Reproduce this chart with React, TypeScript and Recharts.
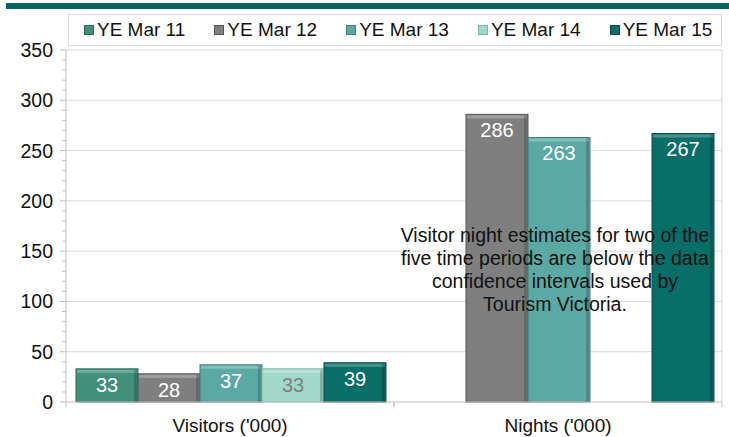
import { Bar, BarChart, CartesianGrid, LabelList, XAxis, YAxis } from "recharts";

const categories = ["Visitors ('000)", "Nights ('000)"];
const periods = ["YE Mar 11", "YE Mar 12", "YE Mar 13", "YE Mar 14", "YE Mar 15"];
const ye11 = [33, null];
const ye12 = [28, 286];
const ye13 = [37, 263];
const ye14 = [33, null];
const ye15 = [39, 267];
const yTicks = [0, 10, 20, 30, 40, 50, 60, 70, 80, 90, 100, 110, 120, 130, 140, 150, 160, 170, 180, 190, 200, 210, 220, 230, 240, 250, 260, 270, 280, 290, 300, 310, 320, 330, 340, 350];
const gridValues = [50, 100, 150, 200, 250, 300, 350];
const noteLines = [
  "Visitor night estimates for two of the",
  "five time periods are below the data",
  "confidence intervals used by",
  "Tourism Victoria.",
];

const colors = ["#40907A", "#7F7F7F", "#5BA9A4", "#A2D8C8", "#0A6E68"];
const edgeColors = ["#2C6B5A", "#555555", "#3F807C", "#7DB8A6", "#05504B"];
const labelColors = ["#FFFFFF", "#FFFFFF", "#FFFFFF", "#7F7F7F", "#FFFFFF"];
const series = [ye11, ye12, ye13, ye14, ye15];

const data = categories.map((c, i) => {
  const row: Record<string, string | number | null> = { name: c };
  periods.forEach((p, k) => {
    row[p] = series[k][i];
  });
  return row;
});

const font = "'Liberation Sans', Arial, sans-serif";

function BevelBar(props: any) {
  const { x, y, width, height, fill, edge } = props;
  if (!height || height <= 0) return null;
  return (
    <g>
      <rect x={x} y={y} width={width} height={height} fill={fill} stroke={edge} strokeWidth={1} />
      <rect x={x + 1} y={y + 1} width={width - 2} height={3} fill="#ffffff" fillOpacity={0.25} />
      <rect x={x + width - 4} y={y + 1} width={3} height={height - 1} fill="#000000" fillOpacity={0.18} />
    </g>
  );
}

function YTick(props: any) {
  const { x, y, payload } = props;
  const major = payload.value % 50 === 0;
  return (
    <g>
      <line x1={major ? x - 6 : x - 4} x2={x} y1={y} y2={y} stroke="#BFBFBF" />
      {major && (
        <text x={x - 13} y={y + 7} textAnchor="end" fontSize={19.5} fill="#111" fontFamily={font}>
          {payload.value}
        </text>
      )}
    </g>
  );
}

function XTick(props: any) {
  const { x, y, payload } = props;
  return (
    <g>
      <line x1={x - 164} x2={x - 164} y1={y} y2={y + 5} stroke="#BFBFBF" />
      <line x1={x + 164} x2={x + 164} y1={y} y2={y + 5} stroke="#BFBFBF" />
      <text x={x} y={y + 30} textAnchor="middle" fontSize={19} fill="#111" fontFamily={font}>
        {payload.value}
      </text>
    </g>
  );
}

function LegendBox() {
  return (
    <div
      style={{
        position: "absolute",
        left: 68,
        top: 14,
        width: 654,
        height: 32,
        border: "1px solid #D9D9D9",
        display: "flex",
        alignItems: "center",
        paddingLeft: 15,
        gap: 29,
        fontFamily: font,
        fontSize: 19,
        color: "#111",
        boxSizing: "border-box",
        background: "#fff",
      }}
    >
      {periods.map((p, k) => (
        <div key={p} style={{ display: "flex", alignItems: "center", gap: 3 }}>
          <span
            style={{
              display: "inline-block",
              width: 8,
              height: 8,
              background: colors[k],
              border: `1px solid ${edgeColors[k]}`,
            }}
          />
          <span>{p}</span>
        </div>
      ))}
    </div>
  );
}

export default function App() {
  return (
    <div style={{ position: "relative", width: 729, height: 437, background: "#fff" }}>
      <style>{"body{margin:0}"}</style>
      <div style={{ position: "absolute", left: 6, top: 3, width: 723, height: 6, background: "#05665F" }} />
      <BarChart
        width={729}
        height={437}
        data={data}
        margin={{ top: 50, right: 7, left: 0, bottom: 0 }}
        barCategoryGap={10}
        barGap={0}
      >
        <CartesianGrid stroke="#D9D9D9" horizontalValues={gridValues} verticalPoints={[722]} />
        <XAxis
          dataKey="name"
          height={35}
          tickLine={false}
          tickSize={0}
          tickMargin={0}
          axisLine={{ stroke: "#BFBFBF" }}
          tick={<XTick />}
        />
        <YAxis
          width={66}
          domain={[0, 350]}
          ticks={yTicks}
          interval={0}
          tickLine={false}
          tickSize={0}
          tickMargin={0}
          axisLine={{ stroke: "#BFBFBF" }}
          tick={<YTick />}
        />
        {periods.map((p, k) => (
          <Bar
            key={p}
            dataKey={p}
            fill={colors[k]}
            isAnimationActive={false}
            shape={(props: any) => <BevelBar {...props} fill={colors[k]} edge={edgeColors[k]} />}
          >
            <LabelList
              dataKey={p}
              content={(lp: any) => {
                if (lp.value == null) return null;
                return (
                  <text
                    x={lp.x + lp.width / 2}
                    y={lp.y + 23}
                    textAnchor="middle"
                    fontSize={20}
                    fill={labelColors[k]}
                    fontFamily={font}
                  >
                    {lp.value}
                  </text>
                );
              }}
            />
          </Bar>
        ))}
      </BarChart>
      <LegendBox />
      <div
        style={{
          position: "absolute",
          left: 395,
          top: 224,
          width: 320,
          textAlign: "center",
          fontFamily: font,
          fontSize: 19.5,
          lineHeight: "23px",
          color: "#111",
          whiteSpace: "nowrap",
        }}
      >
        {noteLines.map((l) => (
          <div key={l}>{l}</div>
        ))}
      </div>
    </div>
  );
}
